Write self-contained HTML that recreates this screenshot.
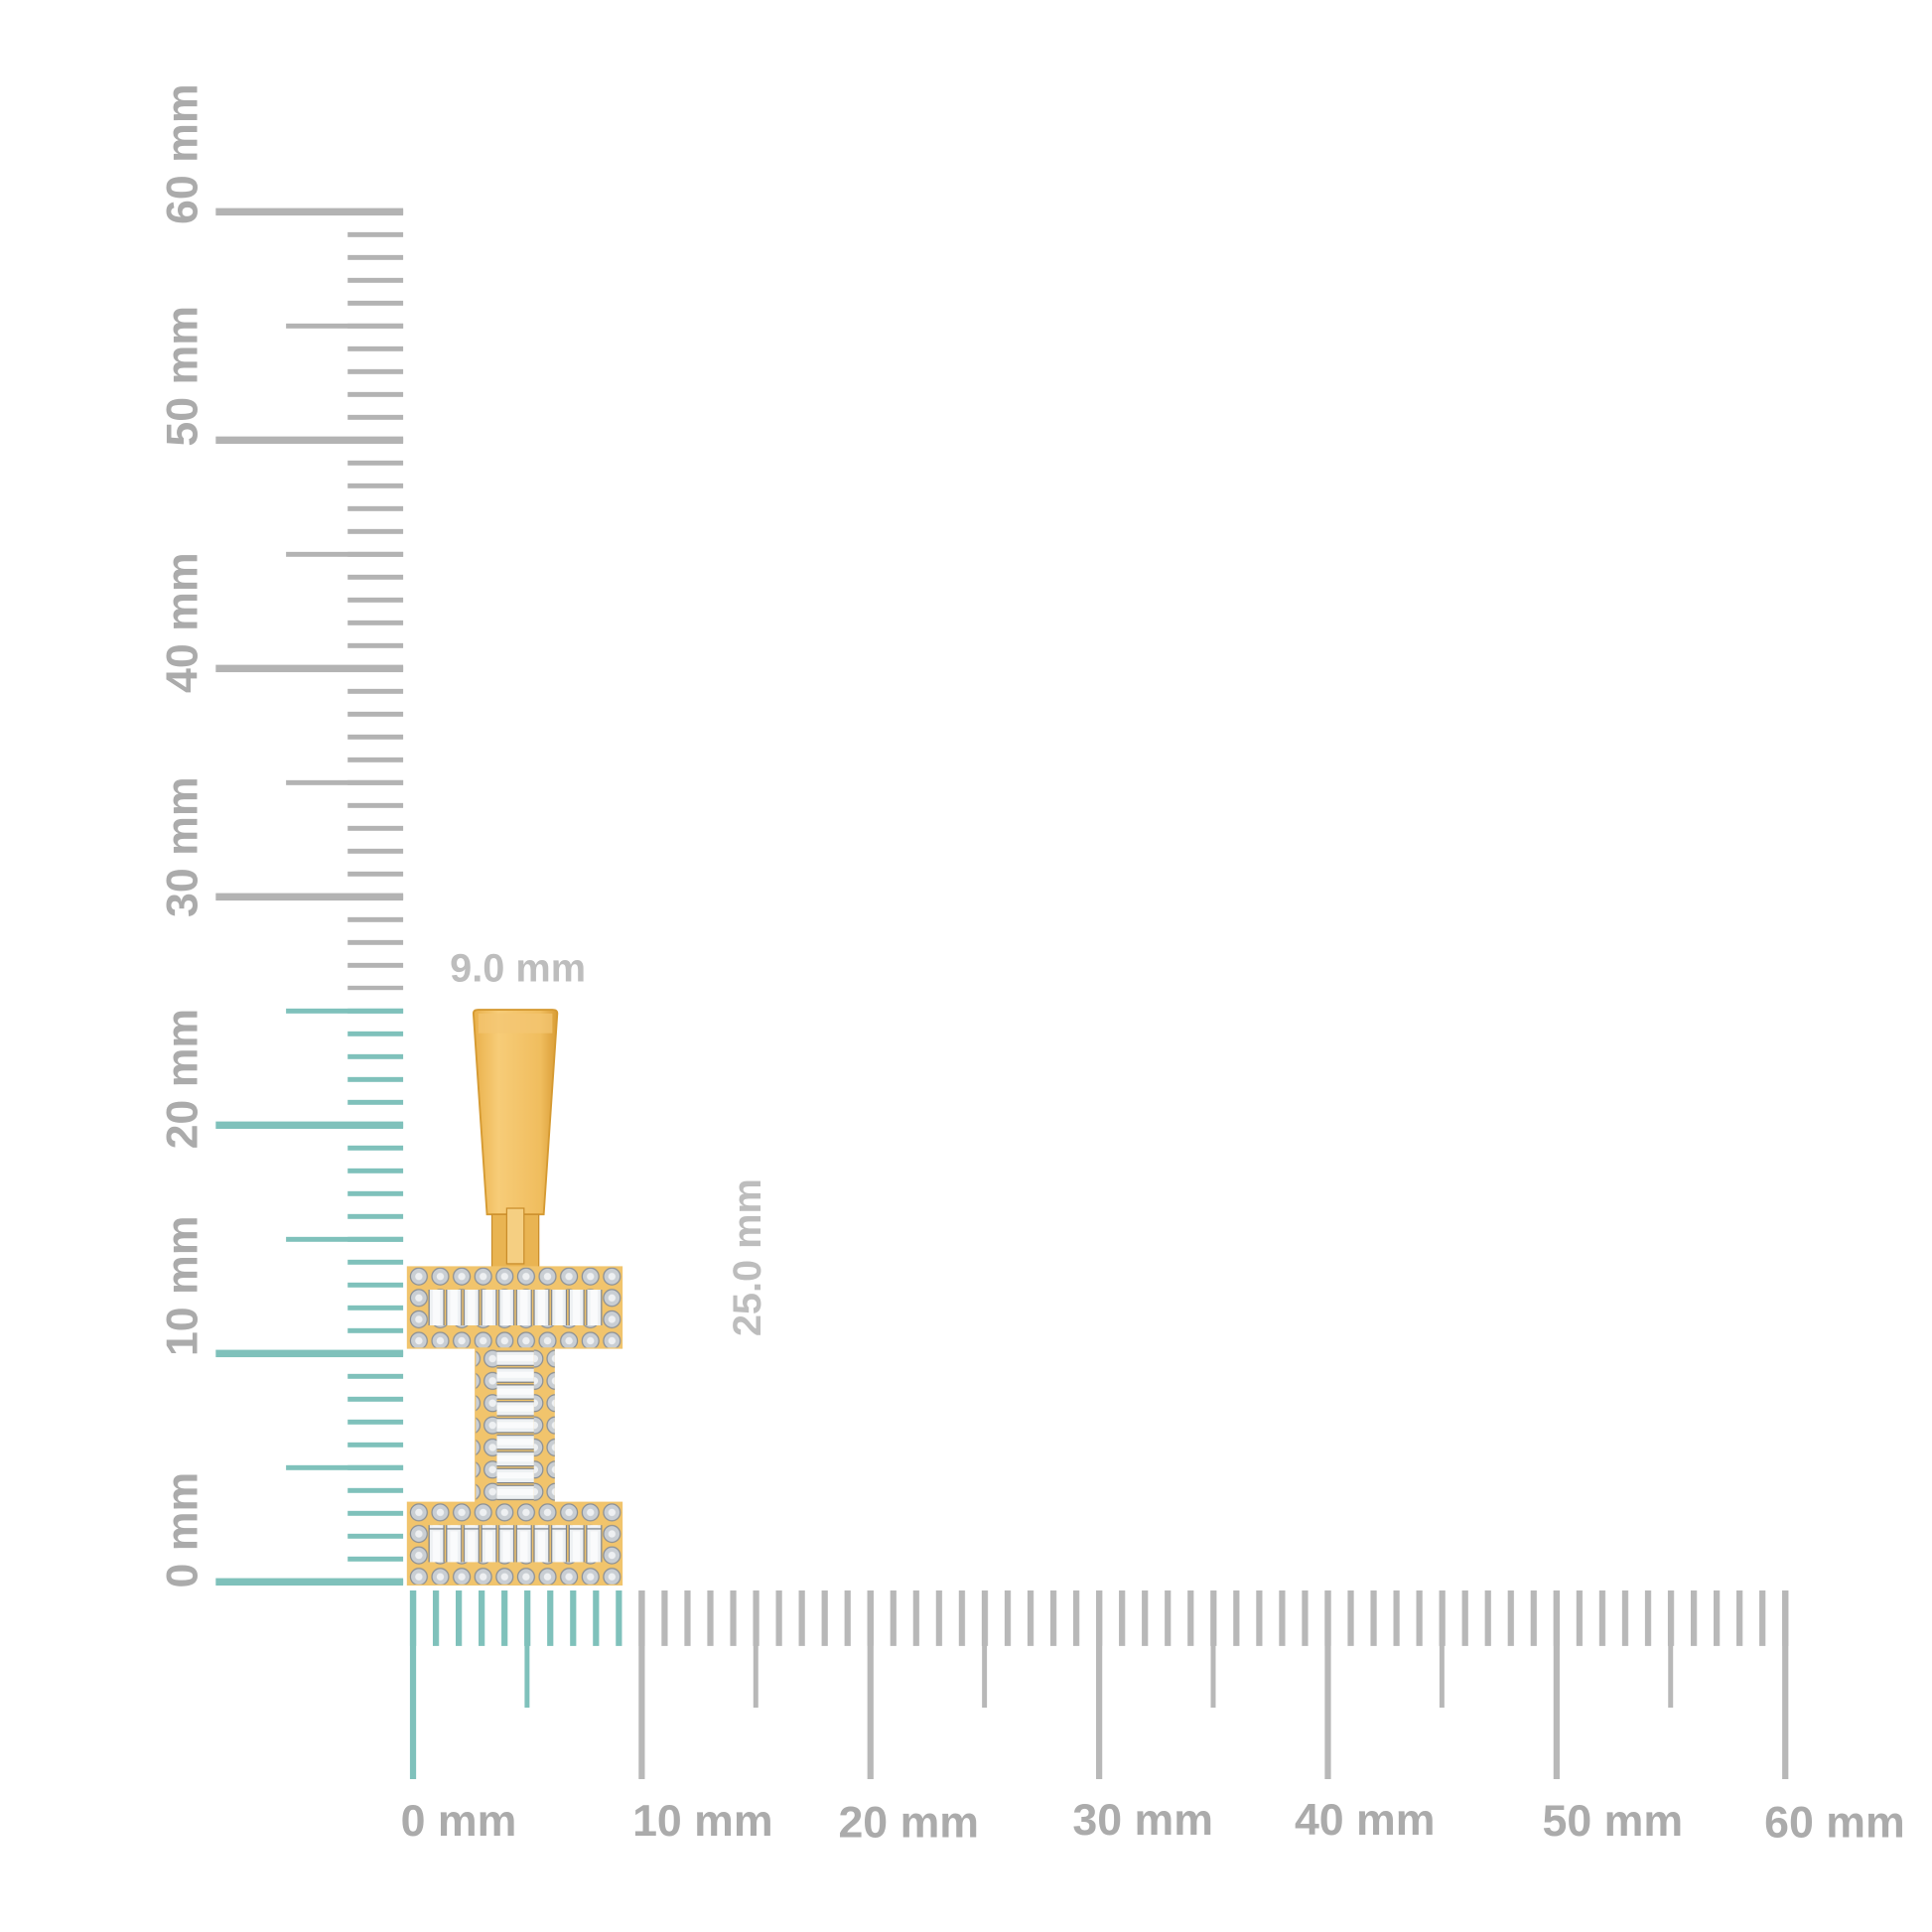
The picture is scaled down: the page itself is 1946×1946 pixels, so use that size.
<!DOCTYPE html>
<html><head><meta charset="utf-8"><style>
html,body{margin:0;padding:0;background:#fff;}
svg{display:block}
text{font-family:"Liberation Sans",sans-serif;font-weight:bold;fill:#ababab}
</style></head><body>
<svg width="1946" height="1946" viewBox="0 0 1567 1567" xmlns="http://www.w3.org/2000/svg">
<defs>
<pattern id="vt" patternUnits="userSpaceOnUse" x="0" y="1281" width="10" height="18.52"><rect x="0" y="0" width="10" height="4" fill="#7fc1bb"/></pattern>
<pattern id="vg" patternUnits="userSpaceOnUse" x="0" y="1281" width="10" height="18.52"><rect x="0" y="0" width="10" height="4" fill="#b3b3b3"/></pattern>
<pattern id="ht" patternUnits="userSpaceOnUse" x="332.5" y="0" width="18.55" height="10"><rect x="0" y="0" width="5" height="10" fill="#7fc1bb"/></pattern>
<pattern id="hg" patternUnits="userSpaceOnUse" x="332.5" y="0" width="18.55" height="10"><rect x="0" y="0" width="5" height="10" fill="#b8b8b8"/></pattern>
<pattern id="dia" patternUnits="userSpaceOnUse" x="331" y="0" width="17.4" height="17.4"><circle cx="8.7" cy="8.7" r="6.8" fill="#c9ced3" stroke="#8a8f95" stroke-width="1"/><circle cx="8.7" cy="8.7" r="3" fill="#eef0f2"/></pattern>
<pattern id="bag" patternUnits="userSpaceOnUse" x="347" y="0" width="14.2" height="40"><rect x="1" y="0" width="12" height="40" fill="#eef1f3" stroke="#7d8288" stroke-width="1"/><rect x="4" y="2" width="6" height="36" fill="#fafbfc"/></pattern>
<pattern id="bagv" patternUnits="userSpaceOnUse" x="0" y="1095" width="40" height="13.6"><rect x="0" y="1" width="40" height="11.5" fill="#eef1f3" stroke="#7d8288" stroke-width="1"/><rect x="3" y="4" width="34" height="5" fill="#fafbfc"/></pattern>
<pattern id="diav" patternUnits="userSpaceOnUse" x="0" y="1093" width="17" height="18"><circle cx="8.5" cy="9" r="6.8" fill="#c9ced3" stroke="#8a8f95" stroke-width="1"/><circle cx="8.5" cy="9" r="3" fill="#eef0f2"/></pattern>
<linearGradient id="gold" x1="0" x2="1" y1="0" y2="0"><stop offset="0" stop-color="#e9b04a"/><stop offset="0.3" stop-color="#f7cc78"/><stop offset="0.8" stop-color="#f0bd5e"/><stop offset="1" stop-color="#d99c35"/></linearGradient>
</defs>

<rect x="282" y="169" width="45" height="634" fill="url(#vg)"/>
<rect x="282" y="817" width="45" height="470" fill="url(#vt)"/>
<g fill="#b3b3b3">
<rect x="175" y="168.8" width="152" height="6"/>
<rect x="175" y="354" width="152" height="6"/>
<rect x="175" y="539.2" width="152" height="6"/>
<rect x="175" y="724.4" width="152" height="6"/>
<rect x="232" y="262.4" width="95" height="4"/>
<rect x="232" y="447.6" width="95" height="4"/>
<rect x="232" y="632.8" width="95" height="4"/>
</g>
<g fill="#7fc1bb">
<rect x="175" y="909.6" width="152" height="6"/>
<rect x="175" y="1094.8" width="152" height="6"/>
<rect x="175" y="1280" width="152" height="6"/>
<rect x="232" y="818" width="95" height="4"/>
<rect x="232" y="1003.2" width="95" height="4"/>
<rect x="232" y="1188.4" width="95" height="4"/>
</g>
<g font-size="36">
<text transform="translate(160,125) rotate(-90)" text-anchor="middle">60 mm</text>
<text transform="translate(160,305) rotate(-90)" text-anchor="middle">50 mm</text>
<text transform="translate(160,505) rotate(-90)" text-anchor="middle">40 mm</text>
<text transform="translate(160,687) rotate(-90)" text-anchor="middle">30 mm</text>
<text transform="translate(160,875) rotate(-90)" text-anchor="middle">20 mm</text>
<text transform="translate(160,1043) rotate(-90)" text-anchor="middle">10 mm</text>
<text transform="translate(160,1241) rotate(-90)" text-anchor="middle">0 mm</text>
</g>

<rect x="330" y="1290" width="180" height="45" fill="url(#ht)"/>
<rect x="516" y="1290" width="937" height="45" fill="url(#hg)"/>
<g fill="#b8b8b8">
<rect x="518" y="1290" width="5" height="153"/>
<rect x="703.5" y="1290" width="5" height="153"/>
<rect x="889" y="1290" width="5" height="153"/>
<rect x="1074.5" y="1290" width="5" height="153"/>
<rect x="1260" y="1290" width="5" height="153"/>
<rect x="1445.5" y="1290" width="5" height="153"/>
<rect x="611" y="1290" width="4" height="95"/>
<rect x="796.5" y="1290" width="4" height="95"/>
<rect x="982" y="1290" width="4" height="95"/>
<rect x="1167.5" y="1290" width="4" height="95"/>
<rect x="1353" y="1290" width="4" height="95"/>
</g>
<g fill="#7fc1bb">
<rect x="332.5" y="1290" width="5" height="153"/>
<rect x="425.5" y="1290" width="4" height="95"/>
</g>
<g font-size="36">
<text x="372" y="1489" text-anchor="middle">0 mm</text>
<text x="570" y="1489" text-anchor="middle">10 mm</text>
<text x="737" y="1490" text-anchor="middle">20 mm</text>
<text x="927" y="1488" text-anchor="middle">30 mm</text>
<text x="1107" y="1488" text-anchor="middle">40 mm</text>
<text x="1308" y="1489" text-anchor="middle">50 mm</text>
<text x="1488" y="1490" text-anchor="middle">60 mm</text>
</g>
<text x="420" y="796" font-size="32" text-anchor="middle" style="fill:#bdbdbd">9.0 mm</text>
<text transform="translate(617,1020) rotate(-90)" font-size="32" text-anchor="middle" style="fill:#bdbdbd">25.0 mm</text>

<path d="M384,822 Q384,819 388,819 L448,819 Q452,819 452,822 L441,985 L395,985 Z" fill="url(#gold)" stroke="#d59a32" stroke-width="1.5"/>
<rect x="388" y="822" width="60" height="16" fill="#f3c674" opacity="0.7"/>
<rect x="399" y="985" width="38" height="44" fill="#e9b452" stroke="#c98d2b" stroke-width="1"/>
<rect x="411" y="980" width="14" height="45" fill="#f5cf82" stroke="#c98d2b" stroke-width="1"/>

<rect x="330" y="1027" width="175" height="67" fill="#f1c46c"/>
<rect x="331" y="1028" width="173" height="18" fill="url(#dia)"/>
<rect x="331" y="1075" width="173" height="18" fill="url(#dia)"/>
<rect x="331" y="1046" width="16" height="29" fill="url(#dia)"/>
<rect x="488" y="1046" width="16" height="29" fill="url(#dia)"/>
<rect x="347" y="1046" width="142" height="29" fill="url(#bag)"/>
<rect x="385" y="1093" width="65" height="126" fill="#f1c46c"/>
<rect x="386" y="1093" width="17" height="126" fill="url(#diav)"/>
<rect x="433" y="1093" width="17" height="126" fill="url(#diav)"/>
<rect x="403" y="1095" width="30" height="122" fill="url(#bagv)"/>
<rect x="330" y="1218" width="175" height="68" fill="#f1c46c"/>
<rect x="331" y="1219" width="173" height="18" fill="url(#dia)"/>
<rect x="331" y="1267" width="173" height="18" fill="url(#dia)"/>
<rect x="331" y="1237" width="16" height="30" fill="url(#dia)"/>
<rect x="488" y="1237" width="16" height="30" fill="url(#dia)"/>
<rect x="347" y="1237" width="142" height="30" fill="url(#bag)"/>
</svg>
</body></html>
